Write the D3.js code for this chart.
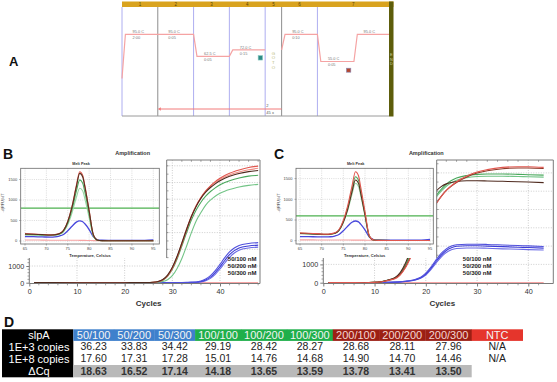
<!DOCTYPE html>
<html><head><meta charset="utf-8">
<script src="https://cdn.jsdelivr.net/npm/d3@7"></script>
<style>body{margin:0;background:#fff}svg{display:block}</style>
</head><body>
<svg id="chart" width="557" height="382"></svg>
<script>
// ================= DATA =================
// Panel A: thermal protocol
const stepNumbers = ["1","2","3","4","5","6","7"];
const stepTemps = [95, 95, 62.5, 72, null, 95, 55];
const stepTimes = ["2:00","0:05","0:05","0:15",null,"0:10","0:05"];
const startTemp = 30;
const meltEndTemp = 95;
const gotoStep = "2";
const gotoRepeats = "45 x";

// Panel B: amplification (1E+3 copies)
const ampCyclesB = [1,5,10,15,20,22,24,26,27,28,29,30,31,32,33,34,35,36,37,38,39,40,41,42,43,44,46,48];
const ampB_red     = [10,5,0,0,0,5,10,25,60,160,400,850,1500,2300,3150,3950,4600,5100,5500,5800,6050,6250,6420,6550,6660,6750,6900,6980];
const ampB_pink    = [10,5,0,0,0,5,12,30,70,180,430,900,1560,2380,3230,4000,4620,5100,5470,5760,5990,6180,6330,6450,6550,6630,6760,6850];
const ampB_brown   = [10,5,0,0,0,5,12,30,75,190,450,920,1580,2380,3200,3960,4570,5050,5420,5700,5920,6100,6250,6370,6460,6540,6650,6720];
const ampB_green   = [10,5,0,0,0,5,10,25,60,150,380,800,1420,2200,3000,3750,4350,4820,5180,5460,5680,5860,6000,6110,6200,6270,6380,6430];
const ampB_ltgreen = [10,5,0,0,0,3,5,10,25,70,180,420,850,1450,2200,3000,3700,4200,4650,4950,5180,5350,5480,5580,5660,5730,5830,5890];
const ampB_blue1   = [10,5,0,0,0,0,0,0,0,5,5,8,10,15,20,25,40,100,220,420,720,1100,1500,1850,2080,2230,2350,2400];
const ampB_blue2   = [10,5,0,0,0,0,0,0,0,5,5,8,10,12,15,20,30,70,160,330,600,950,1330,1680,1920,2080,2200,2250];
const ampB_blue3   = [10,5,0,0,0,0,0,0,0,5,5,8,10,12,15,18,25,50,120,260,500,820,1180,1520,1780,1950,2080,2130];
const ampB_ntc     = [5,5,0,0,0,0,0,0,0,0,0,0,0,0,0,0,0,0,0,0,0,0,0,0,0,0,0,0];

// Panel C: amplification (1E+8 copies)
const ampCyclesC = [1,5,8,10,11,12,13,14,15,16,17,18,19,20,21,22,23,24,25,26,28,30,32,35,38,40,43];
const ampC_red     = [10,5,0,20,40,80,150,220,420,800,1350,2000,2650,3250,3800,4300,4700,5050,5300,5520,5830,6050,6180,6300,6340,6340,6300];
const ampC_darkred = [10,5,0,20,45,90,160,240,450,850,1400,2050,2700,3300,3850,4330,4720,5040,5280,5480,5780,5990,6120,6230,6270,6270,6240];
const ampC_green   = [10,5,0,20,40,90,170,260,500,950,1600,2350,3100,3750,4300,4750,5100,5380,5580,5720,5860,5920,5940,5940,5920,5900,5880];
const ampC_ltgreen = [10,5,0,20,40,85,160,250,480,920,1560,2300,3040,3680,4220,4660,5000,5270,5460,5600,5740,5800,5820,5820,5800,5790,5770];
const ampC_brown   = [10,5,0,20,40,90,180,280,550,1050,1750,2550,3350,4050,4600,5000,5250,5400,5480,5530,5570,5570,5560,5540,5520,5500,5470];
const ampC_blue1   = [5,5,5,5,10,15,25,35,50,80,120,190,300,520,850,1250,1600,1850,2000,2070,2100,2100,2090,2060,2030,2010,1980];
const ampC_blue2   = [5,5,5,5,8,12,20,30,45,70,105,165,270,470,780,1160,1500,1760,1910,1990,2020,2020,2000,1970,1940,1920,1890];
const ampC_blue3   = [5,5,5,5,8,12,18,28,40,62,95,150,240,420,710,1070,1400,1650,1800,1870,1900,1900,1880,1850,1830,1810,1790];
const ampC_ntc     = [5,5,0,0,0,0,0,0,0,0,0,0,0,0,0,0,0,0,0,0,0,0,0,0,0,0,0];

const ampXTicks = [0,10,20,30,40];
const ampYTicks = [0,1000];
const primerLabels = ["50/100 nM","50/200 nM","50/300 nM"];

// Melt peak insets
const meltTemps = [65,67,69,71,72,73,74,75,76,77,77.8,78.5,79,80,81,82,83,86,90,93,95];
const meltB_red     = [180,170,160,150,155,180,260,480,850,1350,1690,1600,1350,750,150,20,10,5,5,5,5];
const meltB_brown   = [170,165,155,148,152,175,255,470,830,1320,1650,1560,1320,730,145,20,10,5,5,5,5];
const meltB_green   = [160,155,148,142,146,168,240,440,770,1210,1490,1410,1190,660,130,18,8,5,5,5,5];
const meltB_ltgreen = [150,145,140,135,140,160,225,400,690,1060,1285,1220,1030,570,115,15,8,5,5,5,5];
const meltB_blue    = [110,105,100,95,100,120,160,250,360,460,490,470,420,280,100,30,20,15,15,15,25];
const meltB_ntc     = [25,25,22,20,20,20,20,20,18,18,15,15,15,12,10,8,5,5,5,5,5];
const meltB_threshold = 800;
const meltC_red     = [190,180,170,160,165,190,270,490,840,1320,1667,1570,1300,700,120,15,8,5,5,5,5];
const meltC_green   = [180,172,165,155,160,182,258,465,790,1240,1546,1460,1210,650,110,15,8,5,5,5,5];
const meltC_brown   = [175,168,160,150,155,178,250,450,760,1180,1466,1385,1150,620,105,15,8,5,5,5,5];
const meltC_ltgreen = [170,162,155,146,150,172,240,430,725,1120,1386,1310,1090,590,100,15,8,5,5,5,5];
const meltC_blue    = [100,97,93,90,95,112,150,240,350,445,476,455,400,260,90,28,18,15,15,15,30];
const meltC_ntc     = [20,20,18,18,18,18,18,16,16,15,15,14,14,12,10,8,5,5,5,5,5];
const meltC_threshold = 600;
const meltXTicks = [65,70,75,80,85,90,95];
const meltYTicks = [0,500,1000,1500];

// Panel D: table
const tableHeader = "slpA";
const primerCombos = ["50/100","50/200","50/300","100/100","100/200","100/300","200/100","200/200","200/300","NTC"];
const comboGroups  = ["50","50","50","100","100","100","200","200","200","NTC"];
const rowLabels = ["1E+3 copies","1E+8 copies","ΔCq"];
const cq1e3   = ["36.23","33.83","34.42","29.19","28.42","28.27","28.68","28.11","27.96","N/A"];
const cq1e8   = ["17.60","17.31","17.28","15.01","14.76","14.68","14.90","14.70","14.46","N/A"];
const deltaCq = ["18.63","16.52","17.14","14.18","13.65","13.59","13.78","13.41","13.50",""];

// ================= DRAWING =================
const svg = d3.select("#chart");
const F = "'Liberation Sans', Arial, Helvetica, sans-serif";
const defs = svg.append("defs");

function txt(g, x, y, s, size, o = {}) {
  const t = g.append("text").attr("x", x).attr("y", y).text(s)
    .attr("font-family", o.family || F).attr("font-size", size).attr("fill", o.fill || "#222");
  if (o.anchor) t.attr("text-anchor", o.anchor);
  if (o.weight) t.attr("font-weight", o.weight);
  return t;
}
function hline(g, x1, x2, y, stroke, w, dash) {
  const l = g.append("line").attr("x1", x1).attr("x2", x2).attr("y1", y).attr("y2", y)
    .attr("stroke", stroke).attr("stroke-width", w || 1);
  if (dash) l.attr("stroke-dasharray", dash);
  return l;
}
function vline(g, x, y1, y2, stroke, w, dash) {
  const l = g.append("line").attr("x1", x).attr("x2", x).attr("y1", y1).attr("y2", y2)
    .attr("stroke", stroke).attr("stroke-width", w || 1);
  if (dash) l.attr("stroke-dasharray", dash);
  return l;
}

// ---------- Panel letters ----------
txt(svg, 9, 66, "A", 13, {weight: "bold", fill: "#111"});
txt(svg, 3, 158.5, "B", 14, {weight: "bold", fill: "#111"});
txt(svg, 274, 158.5, "C", 14, {weight: "bold", fill: "#111"});
txt(svg, 4, 327, "D", 14, {weight: "bold", fill: "#111"});

// ---------- Panel A ----------
(function () {
  const g = svg.append("g");
  const rel = [1, 1, 1, 1, 0.46, 1, 2];
  const edgesU = [0, ...d3.cumsum(rel)];
  const xs = d3.scaleLinear().domain([0, edgesU[edgesU.length - 1]]).range([122, 389]);
  const E = edgesU.map(xs);
  const ty = d3.scaleLinear().domain([30, 95]).range([78.5, 34.3]);

  g.append("rect").attr("x", 122).attr("y", 1.5).attr("width", 271.5).attr("height", 5.5).attr("fill", "#d9a31f");
  stepNumbers.forEach((s, i) => txt(g, (E[i] + E[i + 1]) / 2, 6.2, s, 4.5, {anchor: "middle", fill: "#5a4300"}));
  for (let i = 0; i < 7; i++) {
    vline(g, E[i], 7, 116, (i === 1 || i === 5) ? "#8d8d8d" : "#aeaef0", 1);
  }
  hline(g, 122, 389, 116, "#9a9a9a", 1);
  g.append("rect").attr("x", 389).attr("y", 1.5).attr("width", 4.5).attr("height", 115).attr("fill", "#5d5d0b");
  ["E", "N", "D"].forEach((c, i) => txt(g, 391.3, 56 + i * 4.6, c, 3.8, {anchor: "middle", fill: "#cfcfa0"}));

  const ramp = 3.4;
  const pts1 = [[E[0], ty(startTemp)]];
  let prev = startTemp;
  for (let i = 0; i < 4; i++) {
    pts1.push([E[i] + ramp, ty(stepTemps[i])]);
    pts1.push([E[i + 1], ty(stepTemps[i])]);
    prev = stepTemps[i];
  }
  const mid = E[6] + (E[7] - E[6]) * 0.51;
  const pts2 = [[E[5], ty(prev)], [E[5] + ramp, ty(stepTemps[5])], [E[6], ty(stepTemps[5])],
    [E[6] + ramp, ty(stepTemps[6])], [mid, ty(stepTemps[6])], [mid + ramp, ty(meltEndTemp)], [E[7], ty(meltEndTemp)]];
  const ln = d3.line();
  [pts1, pts2].forEach(p => g.append("path").attr("d", ln(p)).attr("fill", "none")
    .attr("stroke", "#f5a3a3").attr("stroke-width", 1.2));

  const fmt = d3.format(".1f");
  [0, 1, 2, 3, 5, 6].forEach(i => {
    const yy = ty(stepTemps[i]);
    txt(g, E[i] + 10.5, yy - 1.3, fmt(stepTemps[i]) + " C", 3.9, {fill: "#777"});
    txt(g, E[i] + 10.5, yy + 4.6, stepTimes[i], 3.9, {fill: "#777"});
  });
  txt(g, mid + ramp + 6.3, ty(meltEndTemp) - 1.3, fmt(meltEndTemp) + " C", 3.9, {fill: "#777"});

  // camera icons
  g.append("rect").attr("x", E[4] - 7).attr("y", ty(stepTemps[3]) + 5.7).attr("width", 4.4).attr("height", 4.4)
    .attr("fill", "#2e8c86").attr("stroke", "#86c9c2").attr("stroke-width", 0.6);
  g.append("rect").attr("x", E[6] + 29).attr("y", ty(stepTemps[6]) + 6.7).attr("width", 4.4).attr("height", 4)
    .attr("fill", "#b4472f").attr("stroke", "#8a8ab8").attr("stroke-width", 0.6);

  // GOTO
  ["G", "O", "T", "O"].forEach((c, i) => txt(g, (E[4] + E[5]) / 2, 54.5 + i * 4.7, c, 4.4, {anchor: "middle", fill: "#b9b974"}));

  // loop arrow
  hline(g, E[1] + 2, E[5], 109, "#f27b7b", 1);
  g.append("path").attr("d", `M${E[1]},109 L${E[1] + 3},107.2 L${E[1] + 3},110.8 Z`).attr("fill", "#f27b7b");
  txt(g, E[4] + 1.2, 107.3, gotoStep, 4, {fill: "#555"});
  txt(g, E[4] + 1.2, 114, gotoRepeats, 4, {fill: "#555"});
})();

// ---------- Amplification panels ----------
function drawAmp(o) {
  const g = svg.append("g");
  const x = d3.scaleLinear().domain([0, 40]).range([o.x0, o.x40]);
  const y = d3.scaleLinear().domain([0, 1000]).range([282.7, 282.7 - o.per1000]);
  const stripTop = 258, bottom = 283.5, top = 160;
  const left = x(0), right = o.right, upLeft = o.upLeft;
  const id = "clip" + o.key;
  const cp = defs.append("clipPath").attr("id", id);
  cp.append("rect").attr("x", left).attr("y", stripTop).attr("width", right - left).attr("height", bottom - stripTop);
  cp.append("rect").attr("x", upLeft).attr("y", top).attr("width", right - upLeft).attr("height", stripTop - top);
  const inner = g.append("g").attr("clip-path", `url(#${id})`);
  d3.range(1000, 8000, 1000).forEach(v => hline(inner, left, right, y(v), "#b8b8b8", 0.7, "1,1.5"));
  [10, 20, 30, 40].forEach(c => vline(inner, x(c), top, bottom, "#b8b8b8", 0.7, "1,1.5"));

  const line = d3.line().x((d, i) => x(o.cycles[i])).y(d => y(d)).curve(d3.curveMonotoneX);
  o.series.forEach(s => inner.append("path").attr("d", line(s.values)).attr("fill", "none")
    .attr("stroke", s.color).attr("stroke-width", s.w || 1.1));

  // frame
  const fc = "#7a7a7a";
  hline(g, left, right, bottom, fc, 1);
  vline(g, right, top, bottom, fc, 1);
  vline(g, left, stripTop, bottom, fc, 1);
  vline(g, upLeft, top, stripTop, fc, 1);
  hline(g, upLeft, right, top, fc, 1);

  // x axis
  const xa = g.append("g").attr("transform", `translate(0,${bottom})`)
    .call(d3.axisBottom(x).tickValues(ampXTicks).tickSize(3).tickPadding(2).tickFormat(d3.format("d")));
  xa.select(".domain").remove();
  xa.selectAll("line").attr("stroke", fc);
  xa.selectAll("text").attr("font-family", F).attr("font-size", 7.2).attr("fill", "#333");
  const minorX = d3.range(0, o.maxCycle + 0.1, 2).filter(c => ampXTicks.indexOf(c) < 0);
  minorX.forEach(c => vline(g, x(c), bottom, bottom + 1.8, fc, 0.7));
  minorX.filter(c => x(c) > upLeft).forEach(c => vline(g, x(c), top, top + 1.8, fc, 0.7));

  // y axis (lower strip)
  const ya = g.append("g").attr("transform", `translate(${left},0)`)
    .call(d3.axisLeft(y).tickValues(ampYTicks).tickSize(3).tickPadding(2).tickFormat(d3.format("d")));
  ya.select(".domain").remove();
  ya.selectAll("line").attr("stroke", fc);
  ya.selectAll("text").attr("font-family", F).attr("font-size", 7.2).attr("fill", "#333");
  d3.range(200, 1600, 200).filter(v => v !== 1000 && y(v) > stripTop).forEach(v => hline(g, left - 1.8, left, y(v), fc, 0.7));
  d3.range(500, 8000, 500).filter(v => y(v) > top + 1 && y(v) < stripTop).forEach(v => hline(g, upLeft, upLeft + 1.8, y(v), fc, 0.7));

  txt(g, (left + right) / 2 - 12, 154.5, "Amplification", 5.5, {anchor: "middle", weight: "bold", fill: "#333"});
  txt(g, (left + right) / 2 + 4, 306, "Cycles", 8, {anchor: "middle", weight: "bold", fill: "#333"});
  primerLabels.forEach((s, i) => txt(g, o.labelEnd, 260.6 + i * 7.1, s, 6, {anchor: "end", weight: "bold", fill: "#222"}));
}

drawAmp({
  key: "B", x0: 29.3, x40: 220, per1000: 16.7, right: 260, upLeft: 166.7, maxCycle: 48, labelEnd: 256.5,
  cycles: ampCyclesB,
  series: [
    {values: ampB_ntc, color: "#f6a3a3", w: 1.3},
    {values: ampB_blue3, color: "#6c6ce6"},
    {values: ampB_blue2, color: "#3d3dd6"},
    {values: ampB_blue1, color: "#5050dc"},
    {values: ampB_ltgreen, color: "#72c486"},
    {values: ampB_green, color: "#49a85c"},
    {values: ampB_pink, color: "#f08e86"},
    {values: ampB_red, color: "#e0574f"},
    {values: ampB_brown, color: "#4f2a1e"}
  ]
});
drawAmp({
  key: "C", x0: 323.3, x40: 528.3, per1000: 18.3, right: 553.3, upLeft: 436.7, maxCycle: 43, labelEnd: 491.5,
  cycles: ampCyclesC,
  series: [
    {values: ampC_ntc, color: "#f6a3a3", w: 1.3},
    {values: ampC_blue3, color: "#6c6ce6"},
    {values: ampC_blue2, color: "#3d3dd6"},
    {values: ampC_blue1, color: "#5050dc"},
    {values: ampC_ltgreen, color: "#72c486"},
    {values: ampC_green, color: "#49a85c"},
    {values: ampC_brown, color: "#4f2a1e"},
    {values: ampC_darkred, color: "#8e3a2a"},
    {values: ampC_red, color: "#e0574f"}
  ]
});

// ---------- Melt peak insets ----------
function drawMelt(o) {
  const g = svg.append("g");
  const x = d3.scaleLinear().domain([65, 95]).range([o.t65, o.t95]);
  const y = d3.scaleLinear().domain([0, 1500]).range([o.y0, o.y0 - 3 * o.per500]);
  const bx0 = o.bx0, bx1 = o.bx1, by0 = 168.3, by1 = 244;
  g.append("rect").attr("x", bx0).attr("y", by0).attr("width", bx1 - bx0).attr("height", by1 - by0)
    .attr("fill", "#fff");
  meltXTicks.forEach(t => vline(g, x(t), by0, by1, "#c4c4c4", 0.6, "1,1.2"));
  meltYTicks.forEach(v => hline(g, bx0, bx1, y(v), "#c4c4c4", 0.6, "1,1.2"));
  const id = "mclip" + o.key;
  defs.append("clipPath").attr("id", id).append("rect").attr("x", bx0).attr("y", by0)
    .attr("width", bx1 - bx0).attr("height", by1 - by0);
  const inner = g.append("g").attr("clip-path", `url(#${id})`);
  hline(inner, bx0, bx1, y(o.threshold), "#4db14f", 1.2);
  const line = d3.line().x((d, i) => x(meltTemps[i])).y(d => y(d)).curve(d3.curveMonotoneX);
  o.series.forEach(s => inner.append("path").attr("d", line(s.values)).attr("fill", "none")
    .attr("stroke", s.color).attr("stroke-width", s.w || 1.1));
  g.append("rect").attr("x", bx0).attr("y", by0).attr("width", bx1 - bx0).attr("height", by1 - by0)
    .attr("fill", "none").attr("stroke", "#6a6a6a").attr("stroke-width", 0.8);

  meltXTicks.forEach(t => {
    vline(g, x(t), by1, by1 + 1.5, "#777", 0.6);
    txt(g, x(t), 250, d3.format("d")(t), 4, {anchor: "middle", fill: "#444"});
  });
  meltYTicks.forEach(v => {
    hline(g, bx0 - 1.5, bx0, y(v), "#777", 0.6);
    txt(g, bx0 - 3.5, y(v) + 1.4, d3.format("d")(v), 4, {anchor: "end", fill: "#444"});
  });
  txt(g, (bx0 + bx1) / 2 - 9, 165, "Melt Peak", 3.8, {anchor: "middle", weight: "bold", fill: "#333"});
  txt(g, (bx0 + bx1) / 2, 256.8, "Temperature, Celsius", 4.1, {anchor: "middle", weight: "bold", fill: "#333"});
  txt(g, 0, 0, "-d(RFU)/dT", 3.8, {anchor: "middle", fill: "#333"})
    .attr("transform", `translate(${bx0 - 16.5},${203}) rotate(-90)`);
}

drawMelt({
  key: "B", t65: 25, t95: 153.3, y0: 241, per500: 20.5, bx0: 20.7, bx1: 159.3, threshold: meltB_threshold,
  series: [
    {values: meltB_ntc, color: "#f6a3a3"},
    {values: meltB_blue, color: "#4848dc", w: 1.3},
    {values: meltB_ltgreen, color: "#9ad8a6"},
    {values: meltB_green, color: "#4aa85c"},
    {values: meltB_red, color: "#e0574f"},
    {values: meltB_brown, color: "#55301f"}
  ]
});
drawMelt({
  key: "C", t65: 300, t95: 430, y0: 240.7, per500: 20.7, bx0: 296, bx1: 433.3, threshold: meltC_threshold,
  series: [
    {values: meltC_ntc, color: "#f6a3a3"},
    {values: meltC_blue, color: "#4848dc", w: 1.3},
    {values: meltC_ltgreen, color: "#9ad8a6"},
    {values: meltC_green, color: "#4aa85c"},
    {values: meltC_brown, color: "#55301f"},
    {values: meltC_red, color: "#e0574f"}
  ]
});

// ---------- Panel D: table ----------
(function () {
  const g = svg.append("g");
  const rowTops = [329.3, 340.9, 352.9, 365, 377.3];
  const lab0 = 2, lab1 = 73.3;
  const colW = [40.6, 40.6, 40.6, 45.9, 45.9, 45.9, 46.3, 46.3, 46.3, 51];
  const edges = [lab1];
  colW.forEach(w => edges.push(edges[edges.length - 1] + w));
  const groupColor = d3.scaleOrdinal().domain(["50", "100", "200", "NTC"])
    .range(["#3f80cc", "#1faf4a", "#9c1f14", "#e5352c"]);

  g.append("rect").attr("x", lab0).attr("y", rowTops[0]).attr("width", lab1 - lab0)
    .attr("height", rowTops[4] - rowTops[0]).attr("fill", "#000");
  primerCombos.forEach((c, i) => {
    g.append("rect").attr("x", edges[i]).attr("y", rowTops[0]).attr("width", colW[i] + 0.3)
      .attr("height", rowTops[1] - rowTops[0]).attr("fill", groupColor(comboGroups[i]));
  });
  g.append("rect").attr("x", edges[0]).attr("y", rowTops[3]).attr("width", edges[9] - edges[0])
    .attr("height", rowTops[4] - rowTops[3]).attr("fill", "#b9b9b9");

  const labX = 39;
  txt(g, labX, rowTops[0] + 9.4, tableHeader, 11, {anchor: "middle", fill: "#fff"});
  rowLabels.forEach((r, i) => txt(g, labX, rowTops[i + 1] + 9.6, r, 11, {anchor: "middle", fill: "#fff"}));

  primerCombos.forEach((c, i) => {
    const cx = (edges[i] + edges[i + 1]) / 2;
    txt(g, cx, rowTops[0] + 9.4, c, 11, {anchor: "middle", fill: i >= 6 && i < 9 ? "#f3d6d3" : "#f4f4f4"});
    txt(g, cx, rowTops[1] + 9.4, cq1e3[i], 10.5, {anchor: "middle", fill: "#222"});
    txt(g, cx, rowTops[2] + 9.4, cq1e8[i], 10.5, {anchor: "middle", fill: "#222"});
    if (deltaCq[i]) txt(g, cx, rowTops[3] + 9.6, deltaCq[i], 10.5, {anchor: "middle", weight: "bold", fill: "#333"});
  });
})();
</script>
</body></html>
